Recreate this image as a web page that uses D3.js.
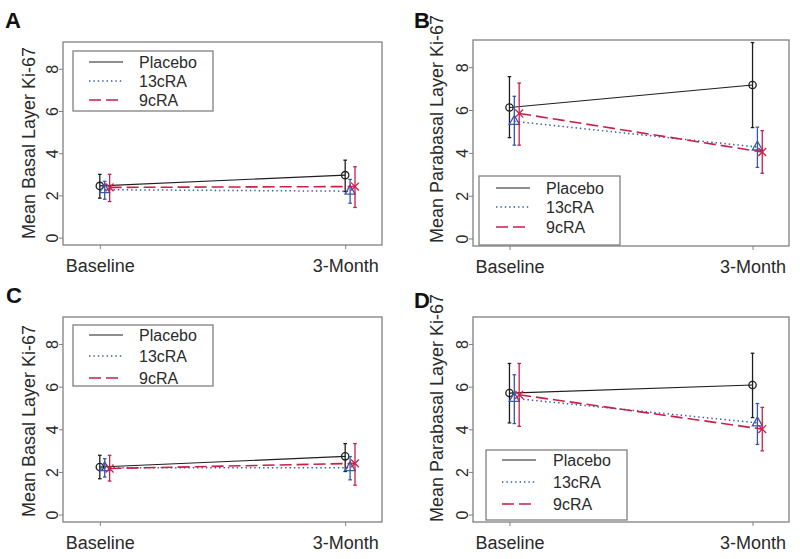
<!DOCTYPE html>
<html>
<head>
<meta charset="utf-8">
<script src="https://cdn.jsdelivr.net/npm/d3@7"></script>
<style>
  html, body { margin: 0; padding: 0; background: #fff; }
  svg { display: block; font-family: "Liberation Sans", Arial, sans-serif; }
</style>
</head>
<body>
<svg id="chart" width="800" height="559"></svg>
<script>
// ---------- data ----------
const timepoints = ["Baseline", "3-Month"];
const groups = ["Placebo", "13cRA", "9cRA"];
const panelLabels = ["A", "B", "C", "D"];
const yTitles = ["Mean Basal Layer Ki-67", "Mean Parabasal Layer Ki-67",
                 "Mean Basal Layer Ki-67", "Mean Parabasal Layer Ki-67"];
const yTicks = [0, 2, 4, 6, 8];

// [Baseline, 3-Month] for each panel A, B, C, D
const placeboMean = [[2.45, 2.96], [6.12, 7.17], [2.23, 2.73], [5.70, 6.08]];
const placeboLow  = [[1.87, 2.18], [4.71, 5.18], [1.68, 2.02], [4.30, 4.55]];
const placeboHigh = [[3.00, 3.67], [7.56, 9.15], [2.78, 3.33], [7.09, 7.57]];

const cra13Mean = [[2.27, 2.20], [5.47, 4.27], [2.20, 2.20], [5.45, 4.30]];
const cra13Low  = [[1.82, 1.63], [4.36, 3.32], [1.76, 1.63], [4.27, 3.29]];
const cra13High = [[2.67, 2.76], [6.64, 5.20], [2.62, 2.72], [6.56, 5.21]];

const cra9Mean = [[2.38, 2.42], [5.84, 4.04], [2.16, 2.40], [5.62, 4.01]];
const cra9Low  = [[1.71, 1.43], [4.36, 3.05], [1.57, 1.38], [4.14, 2.99]];
const cra9High = [[3.00, 3.36], [7.26, 5.04], [2.78, 3.33], [7.09, 5.03]];

// ---------- styling / layout ----------
const seriesStyle = [
  { color: "#1e1e1e", dash: null,    width: 1.1, symbol: "circle",   offset: 0.00 },
  { color: "#3558a8", dash: "1.4,3", width: 1.5, symbol: "triangle", offset: 0.02 },
  { color: "#c8204a", dash: "12,5",  width: 1.6, symbol: "x",        offset: 0.04 }
];
const seriesData = [
  { mean: placeboMean, low: placeboLow, high: placeboHigh },
  { mean: cra13Mean,   low: cra13Low,   high: cra13High },
  { mean: cra9Mean,    low: cra9Low,    high: cra9High }
];

const plots = [
  { left: 63,  top: 42,  w: 319, h: 203, titleX: 35,  titleY: 143, lab: [5, 28] },
  { left: 473, top: 40,  w: 316, h: 206, titleX: 443, titleY: 129, lab: [414, 28] },
  { left: 63,  top: 317, w: 319, h: 205, titleX: 35,  titleY: 421, lab: [6, 303] },
  { left: 473, top: 317, w: 316, h: 205, titleX: 443, titleY: 408, lab: [414, 308] }
];
const legends = [
  { x: 73,  y: 51,  w: 140, h: 60, rows: [62, 81, 100],  lx: 89,  tx: 139 },
  { x: 479, y: 176, w: 141, h: 69, rows: [188, 207, 227], lx: 496, tx: 546 },
  { x: 73,  y: 325, w: 140, h: 61, rows: [335, 356, 378], lx: 89,  tx: 139 },
  { x: 486, y: 450, w: 141, h: 70, rows: [460, 482, 504], lx: 502, tx: 553 }
];

const boxColor = "#808080";
const textColor = "#2a2a2a";

const svg = d3.select("#chart");

plots.forEach((p, pi) => {
  const g = svg.append("g");
  const x = d3.scaleLinear().domain([0.85, 2.15]).range([p.left, p.left + p.w]);
  const y = d3.scaleLinear().domain([-0.35, 9.27]).range([p.top + p.h, p.top]);

  // y axis
  const yAxis = g.append("g")
    .attr("transform", `translate(${p.left},0)`)
    .call(d3.axisLeft(y).tickValues(yTicks).tickSize(4).tickFormat(d3.format("d")));
  yAxis.select(".domain").remove();
  yAxis.selectAll(".tick line").attr("stroke", boxColor).attr("stroke-width", 1);
  yAxis.selectAll(".tick text")
    .attr("transform", "rotate(-90)")
    .attr("x", 0).attr("y", -5).attr("dy", 0)
    .attr("text-anchor", "middle")
    .attr("fill", textColor)
    .style("font-size", "16px");

  // x axis
  const xAxis = g.append("g")
    .attr("transform", `translate(0,${p.top + p.h})`)
    .call(d3.axisBottom(x).tickValues([1, 2]).tickSize(4).tickFormat((d, i) => timepoints[i]));
  xAxis.select(".domain").remove();
  xAxis.selectAll(".tick line").attr("stroke", boxColor).attr("stroke-width", 1);
  xAxis.selectAll(".tick text")
    .attr("y", 27).attr("dy", 0)
    .attr("fill", textColor)
    .style("font-size", "18px");

  // box
  g.append("rect")
    .attr("x", p.left).attr("y", p.top).attr("width", p.w).attr("height", p.h)
    .attr("fill", "none").attr("stroke", boxColor).attr("stroke-width", 1.3);

  // y title
  g.append("text")
    .attr("transform", `translate(${p.titleX},${p.titleY}) rotate(-90)`)
    .attr("text-anchor", "middle")
    .attr("fill", textColor)
    .style("font-size", "18px")
    .text(yTitles[pi]);

  // panel label
  g.append("text")
    .attr("x", p.lab[0]).attr("y", p.lab[1])
    .attr("fill", "#111")
    .style("font-size", "22px").style("font-weight", "bold")
    .text(panelLabels[pi]);

  // series
  seriesData.forEach((s, si) => {
    const st = seriesStyle[si];
    const pts = [0, 1].map(t => ({
      x: t + 1 + st.offset,
      m: s.mean[pi][t], lo: s.low[pi][t], hi: s.high[pi][t]
    }));
    const line = d3.line().x(d => x(d.x)).y(d => y(d.m));
    g.append("path").datum(pts)
      .attr("d", line)
      .attr("fill", "none")
      .attr("stroke", st.color)
      .attr("stroke-width", st.width)
      .attr("stroke-dasharray", st.dash);

    pts.forEach(d => {
      const cx = x(d.x);
      g.append("line")
        .attr("x1", cx).attr("x2", cx).attr("y1", y(d.lo)).attr("y2", y(d.hi))
        .attr("stroke", st.color).attr("stroke-width", 1.3);
      [d.lo, d.hi].forEach(v => {
        g.append("line")
          .attr("x1", cx - 1.8).attr("x2", cx + 1.8).attr("y1", y(v)).attr("y2", y(v))
          .attr("stroke", st.color).attr("stroke-width", 1.3);
      });
      let sym;
      if (st.symbol === "circle") sym = d3.symbol(d3.symbolCircle, 42);
      else if (st.symbol === "triangle") sym = d3.symbol(d3.symbolTriangle, 44);
      else sym = d3.symbol(d3.symbolX, 42);
      g.append("path")
        .attr("transform", `translate(${cx},${y(d.m)})`)
        .attr("d", sym())
        .attr("fill", "none")
        .attr("stroke", st.color)
        .attr("stroke-width", 1.3);
    });
  });

  // legend
  const L = legends[pi];
  const lg = g.append("g");
  lg.append("rect")
    .attr("x", L.x).attr("y", L.y).attr("width", L.w).attr("height", L.h)
    .attr("fill", "#fff").attr("stroke", boxColor).attr("stroke-width", 1.3);
  groups.forEach((name, gi) => {
    const st = seriesStyle[gi];
    lg.append("line")
      .attr("x1", L.lx).attr("x2", L.lx + 34)
      .attr("y1", L.rows[gi]).attr("y2", L.rows[gi])
      .attr("stroke", st.color).attr("stroke-width", st.width)
      .attr("stroke-dasharray", st.dash);
    lg.append("text")
      .attr("x", L.tx).attr("y", L.rows[gi]).attr("dy", "0.36em")
      .attr("fill", textColor)
      .style("font-size", "16px")
      .text(name);
  });
});
</script>
</body>
</html>
